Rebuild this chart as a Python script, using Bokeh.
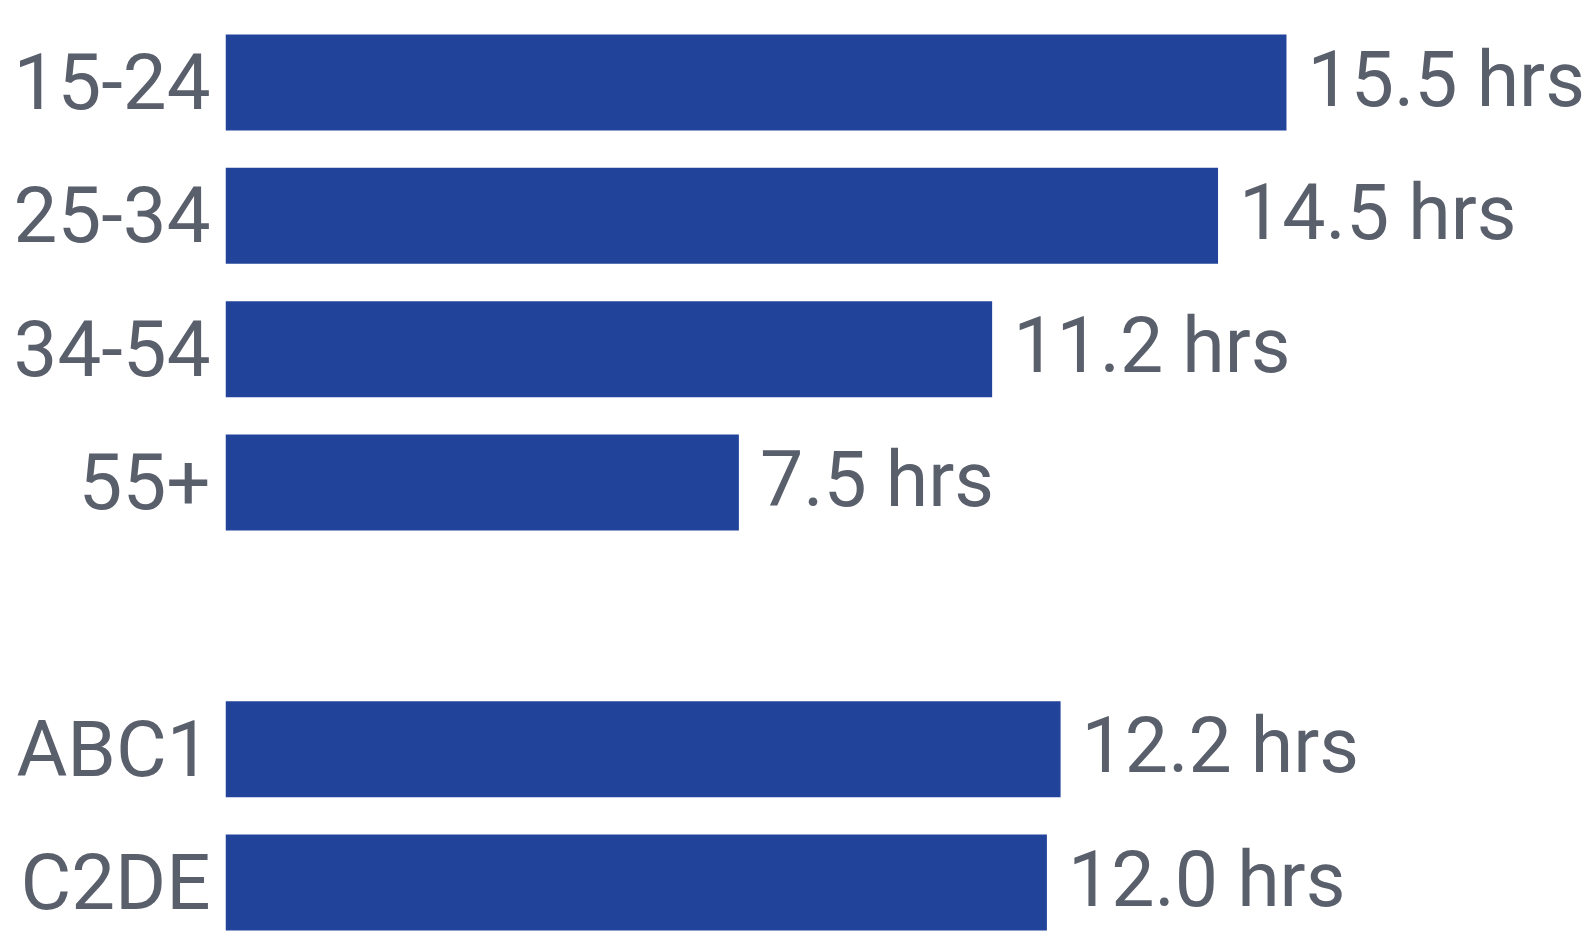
from bokeh.plotting import figure
from bokeh.models import Range1d, FixedTicker, ColumnDataSource
from bokeh.core.properties import value
from bokeh.embed import file_html
from bokeh.resources import INLINE

# Data
age_groups = ["15-24", "25-34", "34-54", "55+"]
age_hours = [15.5, 14.5, 11.2, 7.5]
social_grades = ["ABC1", "C2DE"]
social_hours = [12.2, 12.0]

# Row order, with one empty row separating the two groups
rows = age_groups + [None] + social_grades
hours = age_hours + [None] + social_hours

ys, vals, labels, cats = [], [], [], []
for i, (c, h) in enumerate(zip(rows, hours)):
    if c is None:
        continue
    ys.append(i)
    vals.append(h)
    labels.append(f"{h:.1f} hrs")
    cats.append(c)

src = ColumnDataSource(dict(y=ys, v=vals, lab=labels))

BAR = "#21439a"
TXT = "#5a5f6c"
FONT = "Roboto"

p = figure(width=1594, height=942, output_backend="svg", toolbar_location=None,
           x_range=Range1d(0, 20), y_range=Range1d(6.45, -0.615),
           min_border_left=225, min_border_right=0, min_border_top=0, min_border_bottom=0)
p.outline_line_color = None
p.grid.visible = False
p.xaxis.visible = False
p.background_fill_color = "white"
p.border_fill_color = "white"

yax = p.yaxis[0]
yax.ticker = FixedTicker(ticks=ys)
yax.major_label_overrides = {y: c for y, c in zip(ys, cats)}
yax.axis_line_color = None
yax.major_tick_line_color = None
yax.minor_tick_line_color = None
yax.major_tick_out = 0
yax.major_tick_in = 0
yax.major_label_standoff = 15
yax.major_label_text_font = FONT
yax.major_label_text_font_size = "78px"
yax.major_label_text_color = TXT

p.hbar(y="y", right="v", left=0, height=0.72, source=src, color=BAR, line_color=None)
p.text(x="v", y="y", text="lab", source=src, x_offset=21, y_offset=-3,
       text_baseline="middle", text_align="left",
       text_font=value(FONT), text_font_size="77px", text_color=TXT)

open("out.html", "w").write(file_html(p, INLINE))
